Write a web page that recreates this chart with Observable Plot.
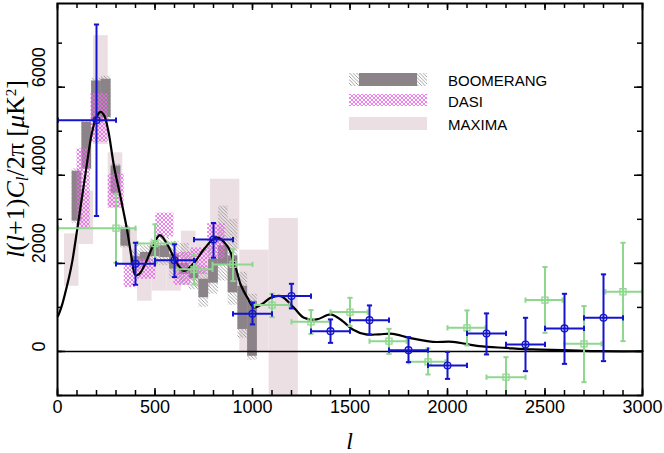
<!DOCTYPE html>
<html><head><meta charset="utf-8">
<script src="https://cdn.jsdelivr.net/npm/d3@7"></script>
<script src="https://cdn.jsdelivr.net/npm/@observablehq/plot@0.6"></script>
<style>body{margin:0;background:#fff} #chart{width:664px;height:453px}</style>
</head><body><div id="chart"></div>
<script>
// ---- theory curve ----
const theoryL = [2, 10, 25, 42, 60, 76, 102, 128, 153, 175, 200, 222, 240, 260, 290, 324, 358, 380, 400, 420, 452, 490, 525, 563, 597, 625, 650, 700, 751, 815, 871, 914, 939, 974, 1008, 1050, 1093, 1145, 1213, 1264, 1330, 1401, 1462, 1514, 1582, 1650, 1719, 1805, 1924, 2027, 2163, 2300, 2437, 2600, 2779, 3000];
const theoryV = [800, 880, 1080, 1370, 1700, 2050, 2800, 3570, 4320, 4930, 5330, 5440, 5350, 5020, 4200, 3490, 2730, 2130, 1730, 1760, 2010, 2400, 2640, 2430, 2130, 1920, 1830, 2010, 2320, 2590, 2390, 1900, 1520, 1220, 1000, 1080, 1220, 1257, 990, 764, 727, 841, 689, 500, 386, 390, 400, 309, 218, 218, 120, 80, 45, 30, 7, 5];

// ---- MAXIMA bands ----
const maximaLo = [36, 110, 185, 260, 335, 410, 485, 560, 635, 710, 785, 935, 1085];
const maximaHi = [110, 185, 260, 335, 410, 485, 560, 635, 710, 785, 935, 1085, 1235];
const maximaBottom = [1480, 2430, 4700, 3250, 1950, 1140, 1370, 1370, 1600, 1450, 2300, 0, -1100];
const maximaTop = [2670, 3640, 7170, 4510, 2800, 2200, 2100, 2050, 2730, 2500, 3910, 2300, 3020];

// ---- BOOMERANG bands ----
const boomLo = [75, 125, 175, 225, 275, 325, 375, 425, 475, 525, 575, 625, 675, 725, 775, 825, 875, 925, 975];
const boomHi = [125, 175, 225, 275, 325, 375, 425, 475, 525, 575, 625, 675, 725, 775, 825, 875, 925, 975, 1025];
const boomBottom = [2960, 4140, 5250, 5310, 3580, 2390, 1950, 2030, 2150, 2130, 1870, 1750, 1650, 1220, 1550, 1950, 1330, 500, -110];
const boomTop = [4090, 5200, 6140, 6180, 4210, 2800, 2150, 2250, 2400, 2400, 2200, 2000, 1900, 1640, 2090, 2400, 2170, 1480, 1140];
const boomSysBottom = [2900, 4100, 5200, 5250, 3500, 2350, 1800, 1900, 2000, 1950, 1650, 1500, 1400, 1000, 1300, 1600, 1050, 300, -200];
const boomSysTop = [4150, 5250, 6200, 6250, 4250, 2850, 2300, 2400, 2550, 2600, 2500, 2450, 2300, 1950, 2600, 3300, 3000, 1800, 1300];

// ---- DASI bands ----
const dasiLo = [100, 172, 260, 342, 410, 504, 597, 685, 770];
const dasiHi = [168, 260, 342, 410, 504, 597, 685, 770, 860];
const dasiBottom = [2800, 4750, 3260, 1450, 1640, 2600, 1500, 1750, 2100];
const dasiTop = [4600, 5850, 4020, 1980, 2100, 3140, 2250, 2350, 2900];

// ---- blue points (circles) ----
const blueL = [200, 400, 600, 800, 1000, 1200, 1400, 1600, 1800, 2000, 2200, 2400, 2600, 2800];
const blueX1 = [2, 300, 500, 700, 900, 1100, 1300, 1500, 1700, 1900, 2100, 2300, 2500, 2700];
const blueX2 = [300, 500, 700, 900, 1100, 1300, 1500, 1700, 1900, 2100, 2300, 2500, 2700, 2900];
const blueV = [5250, 1990, 2070, 2540, 855, 1257, 461, 711, 30, -318, 409, 159, 523, 764];
const blueY1 = [3075, 1514, 1689, 2127, 614, 977, 195, 386, -243, -623, -68, -448, -282, -220];
const blueY2 = [7423, 2468, 2432, 2916, 1105, 1536, 727, 1045, 325, -9, 864, 764, 1309, 1750];

// ---- green points (squares) ----
const greenL = [300, 500, 700, 900, 1100, 1300, 1500, 1700, 1900, 2100, 2300, 2500, 2700, 2900];
const greenX1 = [2, 410, 615, 795, 1010, 1200, 1400, 1600, 1800, 2000, 2200, 2400, 2600, 2810];
const greenX2 = [400, 600, 795, 1000, 1190, 1400, 1590, 1790, 1990, 2195, 2400, 2590, 2790, 3000];
const greenV = [2800, 2450, 1865, 1977, 1052, 673, 893, 234, -236, 536, -584, 1166, 173, 1355];
const greenY1 = [2014, 2000, 1523, 1598, 780, 400, 575, -55, -523, 136, -1100, 423, -698, 234];
const greenY2 = [3582, 2886, 2189, 2318, 1309, 939, 1218, 514, 68, 932, -130, 1916, 1030, 2468];

// ---- ticks ----
const xLabelTicks = [0, 500, 1000, 1500, 2000, 2500, 3000];
const xMinorTicks = d3.range(0, 3001, 100);
const yLabelTicks = [0, 2000, 4000, 6000];
const yMinorTicks = d3.range(-1000, 7001, 1000);
const legendNames = ["BOOMERANG", "DASI", "MAXIMA"];

// ---- build tables ----
const theory = theoryL.map((l, i) => ({l, v: theoryV[i]}));
const maxima = maximaLo.map((lo, i) => ({lo, hi: maximaHi[i], y1: maximaBottom[i], y2: maximaTop[i]}));
const boom = boomLo.map((lo, i) => ({lo, hi: boomHi[i], y1: boomBottom[i], y2: boomTop[i], s1: boomSysBottom[i], s2: boomSysTop[i]}));
const dasi = dasiLo.map((lo, i) => ({lo, hi: dasiHi[i], y1: dasiBottom[i], y2: dasiTop[i]}));
const blue = blueL.map((l, i) => ({l, x1: blueX1[i], x2: blueX2[i], v: blueV[i], y1: blueY1[i], y2: blueY2[i]}));
const green = greenL.map((l, i) => ({l, x1: greenX1[i], x2: greenX2[i], v: greenV[i], y1: greenY1[i], y2: greenY2[i]}));

const W = 664, H = 453, ML = 57, MR = 22, MT = 3, MB = 58;
const XD = [0, 3000], YD = [-1000, 7900];
const PW = W - ML - MR, PH = H - MT - MB;
const pxX = (XD[1] - XD[0]) / PW, pxY = (YD[1] - YD[0]) / PH; // data units per pixel
const BLUE = "#1414cc", GREEN = "#8fd68f", DARK = "#8b8387", PINK = "#ecdfe3", MAG = "#ea6aea";
const vcap = {draw(ctx, size) { const h = Math.sqrt(size / Math.PI); ctx.moveTo(0, -h); ctx.lineTo(0, h); }};
const hcap = {draw(ctx, size) { const h = Math.sqrt(size / Math.PI); ctx.moveTo(-h, 0); ctx.lineTo(h, 0); }};

function errorMarks(data, color, symbol, r) {
  return [
    Plot.ruleY(data, {y: "v", x1: "x1", x2: "x2", stroke: color, strokeWidth: 2, clip: true}),
    Plot.ruleX(data, {x: "l", y1: "y1", y2: "y2", stroke: color, strokeWidth: 2, clip: true}),
    Plot.dot(data, {x: "x1", y: "v", symbol: vcap, r: 2.6, stroke: color, strokeWidth: 2, fill: "none", clip: true}),
    Plot.dot(data, {x: "x2", y: "v", symbol: vcap, r: 2.6, stroke: color, strokeWidth: 2, fill: "none", clip: true}),
    Plot.dot(data.filter(d => d.y1 > YD[0]), {x: "l", y: "y1", symbol: hcap, r: 2.6, stroke: color, strokeWidth: 2, fill: "none"}),
    Plot.dot(data, {x: "l", y: "y2", symbol: hcap, r: 2.6, stroke: color, strokeWidth: 2, fill: "none"}),
    Plot.dot(data, {x: "l", y: "v", symbol, r, stroke: color, strokeWidth: 1.3, fill: "none"})
  ];
}

// inward ticks on all four sides, lengths given in pixels
function inwardTicks(xs, ys) {
  const marks = [];
  const st = {stroke: "#000", strokeWidth: 1.5};
  xs.forEach(([vals, len]) => {
    marks.push(Plot.ruleX(vals, {x: d => d, y1: YD[0], y2: YD[0] + len * pxY, ...st}));
    marks.push(Plot.ruleX(vals, {x: d => d, y1: YD[1], y2: YD[1] - len * pxY, ...st}));
  });
  ys.forEach(([vals, len]) => {
    marks.push(Plot.ruleY(vals, {y: d => d, x1: XD[0], x2: XD[0] + len * pxX, ...st}));
    marks.push(Plot.ruleY(vals, {y: d => d, x1: XD[1], x2: XD[1] - len * pxX, ...st}));
  });
  return marks;
}

const plot = Plot.plot({
  width: W, height: H,
  marginLeft: ML, marginRight: MR, marginTop: MT, marginBottom: MB,
  x: {domain: XD, axis: null},
  y: {domain: YD, axis: null},
  style: {fontFamily: "'Liberation Sans', Arial, sans-serif", fontSize: "18px", background: "#fff", color: "#000"},
  marks: [
    Plot.rect(maxima, {x1: "lo", x2: "hi", y1: "y1", y2: "y2", fill: PINK, clip: true}),
    Plot.rect(boom, {x1: "lo", x2: "hi", y1: "s1", y2: "s2", fill: "url(#bhatch)", clip: true}),
    Plot.rect(boom, {x1: "lo", x2: "hi", y1: "y1", y2: "y2", fill: DARK, clip: true}),
    Plot.rect(dasi, {x1: "lo", x2: "hi", y1: "y1", y2: "y2", fill: "url(#dasipat)", clip: true}),
    Plot.ruleY([0], {stroke: "#000", strokeWidth: 1.5}),
    Plot.line(theory, {x: "l", y: "v", stroke: "#000", strokeWidth: 2.2, curve: "catmull-rom"}),
    ...errorMarks(green, GREEN, "square", 3.4),
    ...errorMarks(blue, BLUE, "circle", 3.4),
    Plot.text(xLabelTicks, {x: d => d, text: d => String(d), frameAnchor: "bottom", dy: 17, fontSize: 18}),
    ...inwardTicks([[xMinorTicks, 5], [xLabelTicks, 7]], [[yMinorTicks, 5], [yLabelTicks, 8]]),
    Plot.text(yLabelTicks, {y: d => d, text: d => String(d), frameAnchor: "left", rotate: -90, dx: -18, fontSize: 18}),
    Plot.frame({stroke: "#000", strokeWidth: 2})
  ]
});

const svg = d3.select(plot);
const defs = svg.insert("defs", ":first-child");
const hp = defs.append("pattern").attr("id", "bhatch").attr("patternUnits", "userSpaceOnUse").attr("width", 3.5).attr("height", 3.5);
hp.append("path").attr("d", "M-1,-1L4.5,4.5M-1,2.5L1,4.5M2.5,-1L4.5,1").attr("stroke", "#8c8c8c").attr("stroke-width", 0.8).attr("fill", "none");
const dp = defs.append("pattern").attr("id", "dasipat").attr("patternUnits", "userSpaceOnUse").attr("width", 4).attr("height", 4);
dp.append("path").attr("d", "M0,0L4,4M4,0L0,4").attr("stroke", MAG).attr("stroke-width", 0.85).attr("fill", "none");

// legend
const lg = svg.append("g").attr("text-anchor", "start");
lg.append("rect").attr("x", 349).attr("y", 73).attr("width", 78).attr("height", 13).attr("fill", "url(#bhatch)");
lg.append("rect").attr("x", 359).attr("y", 73).attr("width", 58).attr("height", 13).attr("fill", DARK);
lg.append("rect").attr("x", 349).attr("y", 94).attr("width", 78).attr("height", 12).attr("fill", "url(#dasipat)");
lg.append("rect").attr("x", 349).attr("y", 117).attr("width", 78).attr("height", 13).attr("fill", PINK);
legendNames.forEach((n, i) => {
  lg.append("text").attr("x", 448).attr("y", [86, 107, 130][i]).attr("font-size", 15).attr("text-anchor", "start")
    .attr("font-family", "'Liberation Sans', Arial, sans-serif").attr("fill", "#000").text(n);
});

// axis titles
const yl = svg.append("text").attr("transform", "translate(24,169) rotate(-90)").attr("text-anchor", "middle")
  .attr("font-family", "'Liberation Serif', 'Times New Roman', serif").attr("font-size", 26).attr("fill", "#000");
yl.append("tspan").attr("font-style", "italic").text("l");
yl.append("tspan").text("(");
yl.append("tspan").attr("font-style", "italic").text("l");
yl.append("tspan").text("+1)");
yl.append("tspan").attr("font-style", "italic").text("C");
yl.append("tspan").attr("font-style", "italic").attr("font-size", 17).attr("dy", 4).text("l");
yl.append("tspan").attr("dy", -4).text("/2π [");
yl.append("tspan").attr("font-style", "italic").text("μ");
yl.append("tspan").text("K");
yl.append("tspan").attr("font-size", 15).attr("dy", -8).text("2");
yl.append("tspan").attr("dy", 8).text("]");
svg.append("text").attr("x", 349.5).attr("y", 449).attr("text-anchor", "middle")
  .attr("font-family", "'Liberation Serif', 'Times New Roman', serif").attr("font-style", "italic")
  .attr("font-size", 24).attr("fill", "#000").text("l");

document.getElementById("chart").appendChild(plot);
</script>
</body></html>
